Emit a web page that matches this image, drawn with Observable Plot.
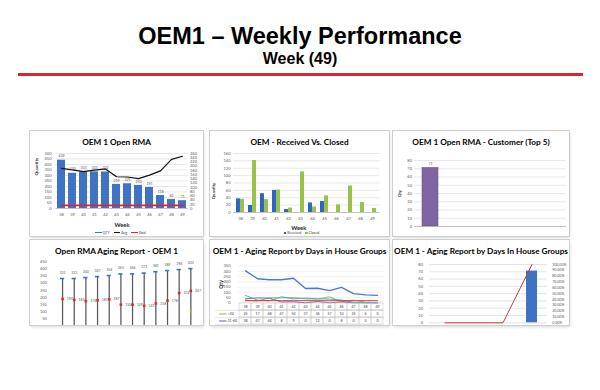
<!DOCTYPE html>
<html><head><meta charset="utf-8">
<script src="https://cdn.jsdelivr.net/npm/d3@7"></script>
<script src="https://cdn.jsdelivr.net/npm/@observablehq/plot@0.6"></script>
<style>
html,body{margin:0;padding:0;background:#fff;}
body{width:600px;height:390px;position:relative;overflow:hidden;font-family:Lato,"Open Sans",sans-serif;}
.main{position:absolute;left:0;width:600px;text-align:center;font-family:"Liberation Sans",Arial,sans-serif;font-weight:bold;color:#000;white-space:nowrap;}
.rule{position:absolute;left:18px;top:73px;width:565px;height:3px;background:#dc262e;}
.panel{position:absolute;background:#fff;overflow:hidden;box-shadow:0 0 0 1px #cfcfcf,1px 2px 3px rgba(0,0,0,0.16);}
.ptitle{position:absolute;left:0;top:5.7px;width:100%;text-align:center;font-weight:bold;font-size:8.2px;line-height:10px;color:#000;white-space:nowrap;}
.legend{position:absolute;font-size:3.6px;line-height:4px;height:4px;color:#404040;white-space:nowrap;display:flex;align-items:center;}
.sw{display:inline-block;margin-right:1px;}
</style></head><body>
<div class="main" style="top:25px;font-size:23.5px;line-height:23.5px;">OEM1 – Weekly Performance</div>
<div class="main" style="top:51px;font-size:16px;line-height:16px;">Week (49)</div>
<div class="rule"></div>

<div class="panel" id="p1" style="left:30px;top:131px;width:173px;height:105px;"><div class="ptitle">OEM 1 Open RMA</div></div>
<div class="panel" id="p2" style="left:210px;top:131px;width:179px;height:105px;"><div class="ptitle">OEM - Received Vs. Closed</div></div>
<div class="panel" id="p3" style="left:393px;top:131px;width:176px;height:105px;"><div class="ptitle">OEM 1 Open RMA - Customer (Top 5)</div></div>
<div class="panel" id="p4" style="left:30px;top:240px;width:173px;height:85px;"><div class="ptitle">Open RMA Aging Report - OEM 1</div></div>
<div class="panel" id="p5" style="left:210px;top:240px;width:179px;height:85px;"><div class="ptitle">OEM 1 - Aging Report by Days in House Groups</div></div>
<div class="panel" id="p6" style="left:393px;top:240px;width:176px;height:85px;"><div class="ptitle">OEM 1 - Aging Report by Days In House Groups</div></div>

<script>
// ---------- data ----------
const weeks = [38,39,40,41,42,43,44,45,46,47,48,49];
const openQty = [439,320,333,333,332,219,225,210,191,118,82,71];
const avgAge = [190,183,174,181,187,150,149,141,158,178,232,247];
const goalAge = [15,15,15,15,15,15,15,15,15,15,15,15];
const qtyTicks = [0,50,100,150,200,250,300,350,400,450,500];
const ageTicks = [0,20,40,60,80,100,120,140,160,180,200,220,240,260];
const p1Series = ["QTY","Avg","Goal"];

const received = [37,19,51,60,8,0,26,30,0,0,0,0];
const closed = [36,141,35,61,12,110,15,45,21,72,27,11];
const rcTicks = [0,20,40,60,80,100,120,140,160];
const p2Series = ["Received","Closed"];

const customers = ["Customer 1","Customer 2","Customer 3","Customer 4","Customer 5"];
const customerQty = [71,0,0,0,0];
const custTicks = [0,10,20,30,40,50,60,70,80];

const maxAge = [333,333,340,347,354,365,366,371,381,389,396,403];
const minAge = [0,0,0,0,0,0,0,0,0,0,0,100];
const agingTicks = [50,100,150,200,250,300,350,400,450];

const groupNames = ["<30","31-60","61-90","91+","Goal"];
const grp30 = [25,17,48,47,50,37,36,57,10,25,6,0];
const grp60 = [38,47,44,8,9,0,12,0,8,0,0,0];
const grp90 = [70,26,20,57,38,45,38,36,26,5,0,0];
const grp91 = [306,230,221,221,235,137,139,117,147,88,76,71];
const grpGoal = [20,20,20,20,20,20,20,20,20,20,20,20];
const houseTicks = [0,50,100,150,200,250,300,350];
const tableRowsShown = ["<30","31-60"];

const ageGroups = ["<30","31-60","61-90",">91"];
const groupQty = [0,0,0,71];
const groupPct = [0,0,0,100];
const countTicks = [0,10,20,30,40,50,60,70,80];
const pctTicks = [0,10,20,30,40,50,60,70,80,90,100];

// ---------- styles ----------
const FONT = "Lato, 'Open Sans', sans-serif";
const AX = "#595959";
const baseStyle = {fontFamily: FONT, fontSize: "4px", color: AX, background: "transparent", overflow: "visible"};
const BLUE = "#3f74c4", GREEN = "#98c24a", PURPLE = "#8064a2", RED = "#e0262d";
const groupColors = ["#9bbb59","#8064a2","#4bacc6","#4a7cc7","#d9333a"];
const lineSym = {draw(ctx, size){ const w = Math.sqrt(size)*0.8; ctx.moveTo(-w,0); ctx.lineTo(w,0); }};

function place(id, el, top, left = 0) {
  el.style.position = "absolute"; el.style.left = left + "px"; el.style.top = top + "px";
  document.getElementById(id).appendChild(el);
}
function legend(id, names, colors, kinds, left, top) {
  const d = document.createElement("div");
  d.className = "legend"; d.style.left = left + "px"; d.style.top = top + "px";
  names.forEach((n, i) => {
    const s = document.createElement("span");
    s.className = "sw";
    if (kinds[i] === "line") { s.style.width = "6.5px"; s.style.height = "1.3px"; }
    else { s.style.width = "2.2px"; s.style.height = "2.2px"; }
    s.style.background = colors[i];
    if (i > 0) s.style.marginLeft = "4px";
    d.appendChild(s);
    d.appendChild(document.createTextNode(n));
  });
  document.getElementById(id).appendChild(d);
}
function label(text, opts) {
  return Plot.text([text], {textAnchor: "middle", lineAnchor: "middle", fontWeight: "bold", fill: "#262626", ...opts});
}

// ---------- P1: open RMA ----------
const k1 = 500 / 260;
const p1Rows = weeks.map((w, i) => ({week: w, qty: openQty[i], avg: avgAge[i], goal: goalAge[i]}));
place("p1", Plot.plot({
  width: 173, height: 105, marginLeft: 25.5, marginRight: 15.5, marginTop: 22, marginBottom: 28,
  style: baseStyle,
  x: {type: "band", domain: weeks, paddingInner: 0.3, paddingOuter: 0.15, axis: null},
  y: {domain: [0, 500], axis: null},
  marks: [
    Plot.ruleY(qtyTicks, {stroke: "#d9d9d9", strokeWidth: 0.6}),
    Plot.barY(p1Rows, {x: "week", y: "qty", fill: BLUE}),
    Plot.ruleY([0], {stroke: "#a6a6a6", strokeWidth: 0.6}),
    Plot.line(p1Rows, {x: "week", y: d => d.goal * k1, stroke: RED, strokeWidth: 1.6}),
    Plot.line(p1Rows, {x: "week", y: d => d.avg * k1, stroke: "#111", strokeWidth: 1.2}),
    Plot.text(p1Rows, {x: "week", y: "qty", text: "qty", dy: -4, fontSize: 3.6, fill: AX}),
    Plot.axisY(qtyTicks, {anchor: "left", tickSize: 0, tickPadding: 4.5, fontSize: 4, color: AX, label: null}),
    Plot.axisY(ageTicks, {anchor: "right", y: d => d * k1, tickFormat: d => String(d), tickSize: 0, tickPadding: 2, fontSize: 4, color: AX, label: null}),
    Plot.axisX({tickSize: 0, tickPadding: 5, fontSize: 4, color: AX, label: null}),
    label("Quantity", {frameAnchor: "top-left", rotate: -90, dx: -19, dy: 13, fontSize: 4.5}),
    label("Week", {frameAnchor: "bottom", dy: 16.3, fontSize: 5.8})
  ]
}), 0);
legend("p1", p1Series, [BLUE, "#111", RED], ["line","line","line"], 65, 99.7);

// ---------- P2: received vs closed ----------
const p2Rows = weeks.map((w, i) => ({week: w, rec: received[i], clo: closed[i]}));
const p2Half = ((179 - 23 - 9.5) / 12) * 0.66 / 2;
place("p2", Plot.plot({
  width: 179, height: 105, marginLeft: 23, marginRight: 9.5, marginTop: 22, marginBottom: 24,
  style: baseStyle,
  x: {type: "band", domain: weeks, paddingInner: 0.34, paddingOuter: 0.17, axis: null},
  y: {domain: [0, 160], axis: null},
  marks: [
    Plot.ruleY(rcTicks, {stroke: "#d9d9d9", strokeWidth: 0.6}),
    Plot.barY(p2Rows, {x: "week", y: "rec", fill: "#2d66c2", insetRight: p2Half}),
    Plot.barY(p2Rows, {x: "week", y: "clo", fill: GREEN, insetLeft: p2Half}),
    Plot.ruleY([0], {stroke: "#a6a6a6", strokeWidth: 0.6}),
    Plot.axisY(rcTicks, {anchor: "left", tickSize: 0, tickPadding: 3, fontSize: 4, color: AX, label: null}),
    Plot.axisX({tickSize: 0, tickPadding: 5, fontSize: 4, color: AX, label: null}),
    label("Quantity", {frameAnchor: "left", rotate: -90, dx: -20, dy: 8, fontSize: 4.2}),
    label("Week", {frameAnchor: "bottom", dx: -8, dy: 15.3, fontSize: 5.8})
  ]
}), 0);
legend("p2", p2Series, ["#2d66c2", GREEN], ["box","box"], 74, 99.7);

// ---------- P3: customer top 5 ----------
const p3Rows = customers.map((c, i) => ({cust: c, qty: customerQty[i]})).filter(d => d.qty > 0);
place("p3", Plot.plot({
  width: 176, height: 105, marginLeft: 21, marginRight: 3, marginTop: 29, marginBottom: 10,
  style: baseStyle,
  x: {type: "band", domain: customers, paddingInner: 0.47, paddingOuter: 0.235, axis: null},
  y: {domain: [0, 80], axis: null},
  marks: [
    Plot.ruleY(custTicks, {stroke: "#d9d9d9", strokeWidth: 0.6}),
    Plot.barY(p3Rows, {x: "cust", y: "qty", fill: PURPLE, stroke: "#5f4a80", strokeWidth: 0.5}),
    Plot.ruleY([0], {stroke: "#a6a6a6", strokeWidth: 0.6}),
    Plot.text(p3Rows, {x: "cust", y: "qty", text: "qty", dy: -4, fontSize: 3.6, fill: AX}),
    Plot.axisY(custTicks, {anchor: "left", tickSize: 0, tickPadding: 2.5, fontSize: 4, color: AX, label: null}),
    label("Qty", {frameAnchor: "left", rotate: -90, dx: -15, fontSize: 4.2})
  ]
}), 0);

// ---------- P4: aging report ----------
const p4Rows = weeks.map((w, i) => ({week: w, max: maxAge[i], avg: avgAge[i], min: minAge[i]}));
place("p4", Plot.plot({
  width: 178, height: 108, marginLeft: 22.7, marginRight: 3.7, marginTop: 22, marginBottom: 20,
  style: baseStyle,
  x: {type: "band", domain: weeks, padding: 0, axis: null},
  y: {domain: [0, 450], axis: null},
  marks: [
    Plot.ruleX(p4Rows, {x: "week", y1: 0, y2: "max", stroke: "#5a5a5a", strokeWidth: 1.3}),
    Plot.tickY(p4Rows, {x: "week", y: "max", stroke: "#3d6fc4", strokeWidth: 1.6, insetLeft: 3.8, insetRight: 3.8}),
    Plot.dot(p4Rows, {x: "week", y: "avg", symbol: "square", r: 1.5, fill: RED}),
    Plot.dot(p4Rows.filter(d => d.min > 0), {x: "week", y: "min", r: 1.2, fill: "#9bbb59"}),
    Plot.text(p4Rows, {x: "week", y: "max", text: "max", dy: -6, fontSize: 3.6, fill: AX}),
    Plot.text(p4Rows, {x: "week", y: "avg", text: "avg", dx: 7.5, fontSize: 3.6, fill: AX}),
    Plot.axisY(agingTicks, {anchor: "left", tickSize: 0, tickPadding: 6, fontSize: 4, color: AX, label: null})
  ]
}), 0);

// ---------- data table under the P5 chart ----------
function tablePlot({cols, rowNames, values, colors, fmt, width, height, marginLeft, marginRight, legendW, swX, labX}) {
  const hdr = " ";
  const yDomain = [hdr, ...rowNames];
  const rowH = height / yDomain.length;
  const cells = cols.map(c => ({col: c, row: hdr, label: String(c)}));
  rowNames.forEach((r, j) => cols.forEach((c, i) => cells.push({col: c, row: r, label: fmt(values[j][i])})));
  const legRows = rowNames.map((r, j) => ({row: r, color: colors[j]}));
  return Plot.plot({
    width, height, marginLeft, marginRight, marginTop: 0, marginBottom: 0,
    style: baseStyle,
    x: {type: "band", domain: cols, padding: 0, axis: null},
    y: {type: "band", domain: yDomain, padding: 0, axis: null},
    marks: [
      Plot.cell(cells, {x: "col", y: "row", fill: "none", stroke: "#c4c4c4", strokeWidth: 0.5}),
      Plot.ruleY(legRows.slice(0, 1), {y: "row", dy: -rowH / 2, insetLeft: -legendW, stroke: "#c4c4c4", strokeWidth: 0.5}),
      Plot.ruleY(legRows, {y: "row", dy: rowH / 2, insetLeft: -legendW, stroke: "#c4c4c4", strokeWidth: 0.5}),
      Plot.text(cells, {x: "col", y: "row", text: "label", fontSize: 3.6, fill: "#404040"}),
      Plot.dot(legRows, {y: "row", frameAnchor: "left", dx: swX, symbol: lineSym, r: 2.6, stroke: "color", strokeWidth: 1.1, fill: "none"}),
      Plot.text(legRows, {y: "row", frameAnchor: "left", dx: labX, text: "row", textAnchor: "start", lineAnchor: "middle", fontSize: 3.6, fill: "#404040"})
    ]
  });
}

// ---------- P5: aging by days in house groups (weekly) ----------
const grpValues = [grp30, grp60, grp90, grp91, grpGoal];
const p5Marks = [Plot.ruleY(houseTicks, {stroke: "#e3e3e3", strokeWidth: 0.5})];
groupNames.forEach((g, j) => {
  const rows = weeks.map((w, i) => ({week: w, v: grpValues[j][i]}));
  p5Marks.push(Plot.line(rows, {x: "week", y: "v", stroke: groupColors[j], strokeWidth: j === 3 ? 1.4 : 1}));
});
p5Marks.push(
  Plot.axisY(houseTicks, {anchor: "left", tickSize: 0, tickPadding: 8, fontSize: 4, color: AX, label: null}),
  label("Qty", {frameAnchor: "left", rotate: -90, dx: -17.5, fontSize: 5})
);
place("p5", Plot.plot({
  width: 179, height: 63, marginLeft: 28, marginRight: 5, marginTop: 25.7, marginBottom: 0.7,
  style: baseStyle,
  x: {type: "band", domain: weeks, padding: 0, axis: null},
  y: {domain: [0, 350], axis: null},
  marks: p5Marks
}), 0);
const shownIdx = tableRowsShown.map(r => groupNames.indexOf(r));
place("p5", tablePlot({
  cols: weeks, rowNames: tableRowsShown, values: shownIdx.map(j => grpValues[j]),
  colors: shownIdx.map(j => groupColors[j]), fmt: v => String(v),
  width: 179, height: 22.8, marginLeft: 28, marginRight: 5, legendW: 23, swX: -15.7, labX: -11
}), 62.3);

// ---------- P6: aging distribution ----------
const p6Rows = ageGroups.map((g, i) => ({g, qty: groupQty[i], pct: groupPct[i]}));
const k6 = 80 / 100;
place("p6", Plot.plot({
  width: 176, height: 83, marginLeft: 36, marginRight: 22.3, marginTop: 24, marginBottom: 0.7,
  style: baseStyle,
  x: {type: "band", domain: ageGroups, paddingInner: 0.62, paddingOuter: 0.31, axis: null},
  y: {domain: [0, 80], axis: null},
  marks: [
    Plot.ruleY(countTicks, {stroke: "#d0d0d0", strokeWidth: 0.6}),
    Plot.barY(p6Rows, {x: "g", y: "qty", fill: "#3f73c2"}),
    Plot.line(p6Rows, {x: "g", y: d => d.pct * k6, stroke: "#c9373d", strokeWidth: 1}),
    Plot.axisY(countTicks, {anchor: "left", tickSize: 0, tickPadding: 6.5, fontSize: 4, color: AX, label: null}),
    Plot.axisY(pctTicks, {anchor: "right", y: d => d * k6, tickFormat: d => d.toFixed(2) + "%", tickSize: 0, tickPadding: 5, fontSize: 3.6, color: AX, label: null})
  ]
}), 0);
</script>
</body></html>
